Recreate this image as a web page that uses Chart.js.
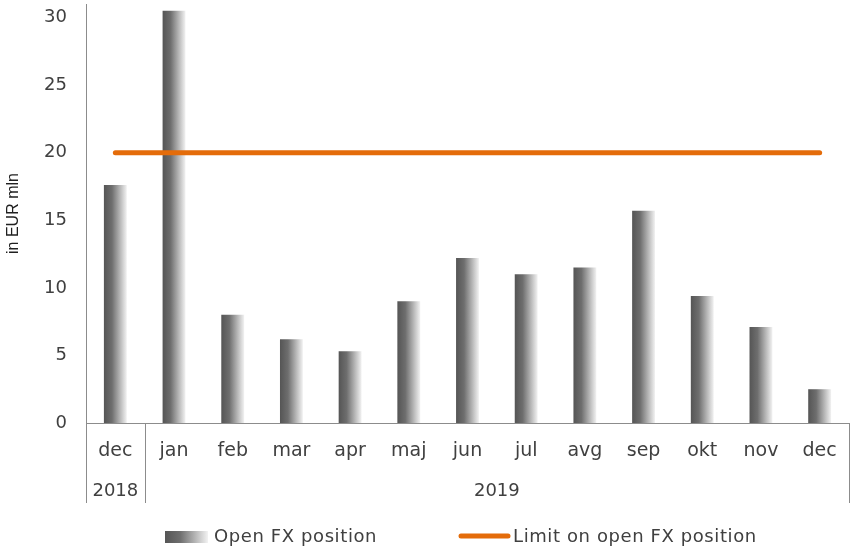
<!DOCTYPE html>
<html>
<head>
<meta charset="utf-8">
<script src="https://cdn.jsdelivr.net/npm/chart.js@4.4.1/dist/chart.umd.min.js"></script>
<style>
  html, body { margin: 0; padding: 0; background: #fff; }
  #wrap { width: 850px; height: 549px; }
</style>
</head>
<body>
<div id="wrap"><canvas id="fxChart"></canvas></div>
<script>
const months = ["dec", "jan", "feb", "mar", "apr", "maj", "jun", "jul", "avg", "sep", "okt", "nov", "dec"];
const years = ["2018", "2019"];
const yearSpans = [1, 12];
const openPosition = [17.6, 30.5, 8.0, 6.2, 5.3, 9.0, 12.2, 11.0, 11.5, 15.7, 9.4, 7.1, 2.5];
const limitLine = [20, 20, 20, 20, 20, 20, 20, 20, 20, 20, 20, 20, 20];
const yTicks = [0, 5, 10, 15, 20, 25, 30];

const FONT = "'DejaVu Sans', sans-serif";
const TEXT = "#404040";
const AXIS = "#8c8c8c";
const ORANGE = "#e46c0a";
const BAR_PCT = 0.39;

function fillGradient(g) {
  g.addColorStop(0, "#555555");
  g.addColorStop(0.35, "#6e6e6e");
  g.addColorStop(1, "#f2f2f2");
  return g;
}

function barGradient(ctx) {
  const chart = ctx.chart;
  const xs = chart.scales.x;
  if (!xs || !chart.chartArea) return "#777";
  const center = xs.getPixelForValue(ctx.dataIndex);
  const w = (xs.width / months.length) * BAR_PCT;
  return fillGradient(chart.ctx.createLinearGradient(center - w / 2, 0, center + w / 2, 0));
}

// year row, group separators and legend
const extras = {
  id: "extras",
  afterDraw(chart) {
    const c = chart.ctx;
    const xs = chart.scales.x;
    const area = chart.chartArea;
    const step = xs.width / months.length;
    const bottom = 503;

    c.save();
    c.strokeStyle = AXIS;
    c.lineWidth = 1;
    let start = 0;
    const edges = [xs.left];
    years.forEach((yr, i) => {
      const left = xs.left + start * step;
      const right = left + yearSpans[i] * step;
      edges.push(right);
      c.fillStyle = TEXT;
      c.font = "18px " + FONT;
      c.textAlign = "center";
      c.textBaseline = "middle";
      c.fillText(yr, (left + right) / 2, 491);
      start += yearSpans[i];
    });
    edges.forEach((x) => {
      const px = Math.round(x) + 0.5;
      c.beginPath();
      c.moveTo(px, area.bottom);
      c.lineTo(px, bottom);
      c.stroke();
    });

    // legend
    const ly = 537;
    c.font = "18px " + FONT;
    c.letterSpacing = "0.6px";
    c.textAlign = "left";
    c.textBaseline = "middle";
    const ds = chart.data.datasets;
    let x = 165;
    c.fillStyle = fillGradient(c.createLinearGradient(x, 0, x + 43, 0));
    c.fillRect(x, ly - 6, 43, 12);
    c.fillStyle = TEXT;
    c.fillText(ds[0].label, x + 49, ly);
    x = 458;
    c.strokeStyle = ORANGE;
    c.lineWidth = 5;
    c.lineCap = "round";
    c.beginPath();
    c.moveTo(x + 3, ly - 1);
    c.lineTo(x + 50, ly - 1);
    c.stroke();
    c.fillText(ds[1].label, x + 55, ly);
    c.restore();
  }
};

new Chart(document.getElementById("fxChart"), {
  data: {
    labels: months,
    datasets: [
      {
        type: "bar",
        label: "Open FX position",
        data: openPosition,
        backgroundColor: barGradient,
        categoryPercentage: 1,
        barPercentage: BAR_PCT,
        order: 1
      },
      {
        type: "line",
        label: "Limit on open FX position",
        data: limitLine,
        borderColor: ORANGE,
        borderWidth: 5,
        borderCapStyle: "round",
        pointRadius: 0,
        order: 0
      }
    ]
  },
  options: {
    responsive: true,
    maintainAspectRatio: false,
    animation: false,
    layout: { padding: { top: 4, right: 1, left: 0, bottom: 0 } },
    plugins: {
      legend: { display: false },
      tooltip: { enabled: false }
    },
    scales: {
      x: {
        grid: { display: false, drawTicks: false },
        border: { display: true, color: AXIS, width: 1 },
        ticks: { color: TEXT, font: { family: FONT, size: 19 }, padding: 17, maxRotation: 0, autoSkip: false },
        afterFit(scale) {
          scale.height = 126;
          scale.paddingLeft = 0;
          scale.paddingRight = 0;
        }
      },
      y: {
        min: 0,
        max: 31,
        grid: { display: false, drawTicks: false },
        border: { display: true, color: AXIS, width: 1 },
        ticks: { color: TEXT, font: { family: FONT, size: 18 }, padding: 19 },
        afterBuildTicks(scale) { scale.ticks = yTicks.map((v) => ({ value: v })); },
        afterFit(scale) {
          scale.width = 86;
          scale.paddingTop = 0;
          scale.paddingBottom = 0;
        },
        title: {
          display: true,
          text: "in EUR mln",
          color: "#202020",
          font: { family: "'Liberation Sans', Arial, sans-serif", size: 16 },
          padding: { top: 4, bottom: 4 }
        }
      }
    }
  },
  plugins: [extras]
});
</script>
</body>
</html>
